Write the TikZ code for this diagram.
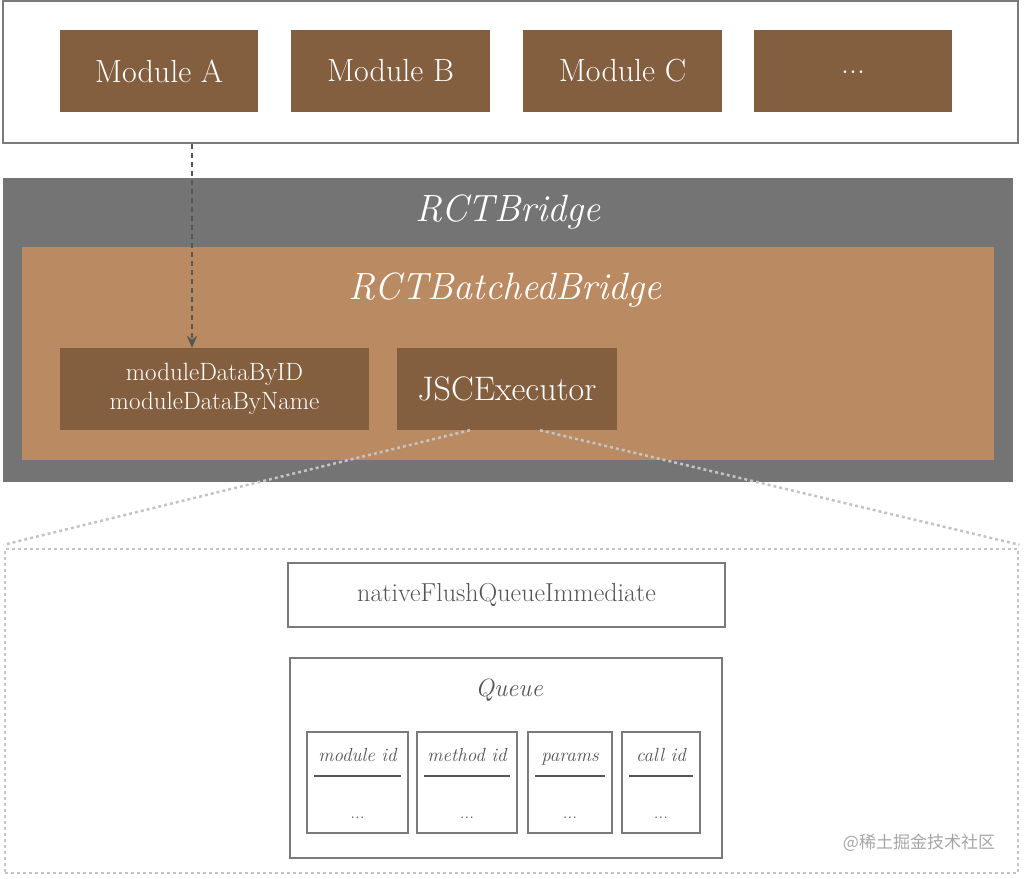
\documentclass[tikz,border=0pt]{standalone}
\usepackage{fontspec}
\newfontfamily\cjk{Noto Sans CJK SC}
\usetikzlibrary{arrows.meta,calc}
\definecolor{brownbox}{HTML}{835F40}
\definecolor{bridgegray}{HTML}{747474}
\definecolor{batched}{HTML}{BA8B62}
\definecolor{framegray}{HTML}{7A7A7A}
\definecolor{dotgray}{HTML}{C4C4C4}
\definecolor{textgray}{HTML}{555555}
\begin{document}
\begin{tikzpicture}[x=1pt,y=-1pt,
  brownnode/.style={rectangle,fill=brownbox,text=white,inner sep=0pt,minimum height=82pt},
  framebox/.style={rectangle,draw=framegray,line width=2.5pt,inner sep=0pt},
  colbox/.style={rectangle,draw=framegray,line width=1.8pt,inner sep=0pt,minimum height=101pt},
  dottedline/.style={draw=dotgray,line width=2.5pt,dash pattern=on 3pt off 3pt},
  coltext/.style={font=\fontsize{19}{21}\selectfont\itshape,text=textgray,inner sep=0pt,anchor=base},
  dottext/.style={font=\fontsize{19}{21}\selectfont,text=textgray,inner sep=0pt,anchor=base}]
\useasboundingbox (0,0) rectangle (1024,878);
\fill[white] (0,0) rectangle (1024,878);

% top module frame
\node[framebox,minimum width=1015pt,minimum height=142pt] (topframe) at (510.5,72) {};
\node[brownnode,minimum width=198pt,font=\fontsize{32}{34}\selectfont] (ma) at (159,71) {Module A};
\node[brownnode,minimum width=199pt,font=\fontsize{32}{34}\selectfont] (mb) at (390.5,71) {Module B};
\node[brownnode,minimum width=199pt,font=\fontsize{32}{34}\selectfont] (mc) at (622.5,71) {Module C};
\node[brownnode,minimum width=198pt,font=\fontsize{32}{34}\selectfont] (md) at (853,71) {\raisebox{-5pt}{...}};

% bridge
\node[rectangle,fill=bridgegray,minimum width=1010pt,minimum height=304pt,inner sep=0pt] (bridge) at (508,330) {};
\node[rectangle,fill=batched,minimum width=972pt,minimum height=213pt,inner sep=0pt] (batched) at (508,353.5) {};
\node[text=white,font=\fontsize{38}{40}\selectfont\itshape,inner sep=0pt] (bridgelbl) at (508,212) {RCTBridge};
\node[text=white,font=\fontsize{38}{40}\selectfont\itshape,inner sep=0pt] (batchedlbl) at (505,290) {RCTBatchedBridge};
\node[brownnode,minimum width=309pt,align=center,font=\fontsize{25}{29}\selectfont] (mdata) at (214.5,389) {moduleDataByID\\moduleDataByName};
\node[brownnode,minimum width=220pt,font=\fontsize{34}{36}\selectfont] (jsc) at (507,389) {JSCExecutor};

% dashed arrow
\coordinate (arrowtop) at (192,144);
\draw[draw=textgray,line width=1.8pt,dash pattern=on 5pt off 4pt,-{Stealth[length=12pt,width=10pt]}] (arrowtop) -- (arrowtop |- mdata.north);

% dotted zoom region
\node[rectangle,dottedline,minimum width=1013pt,minimum height=324pt,inner sep=0pt] (zoom) at (511.5,711) {};
\draw[dottedline] ([xshift=-37pt]jsc.south) -- ([yshift=3pt]zoom.north west);
\draw[dottedline] ([xshift=33pt]jsc.south) -- ([yshift=3pt]zoom.north east);

\node[framebox,minimum width=437pt,minimum height=64pt,text=textgray,font=\fontsize{26}{28}\selectfont] (nfq) at (506.5,595) {nativeFlushQueueImmediate};
\node[framebox,minimum width=432pt,minimum height=200pt] (queue) at (506,758) {};
\node[text=textgray,font=\fontsize{25}{27}\selectfont\itshape,inner sep=0pt] (queuelbl) at (509,690) {Queue};

\node[colbox,minimum width=101pt] (c1) at (357.5,782.5) {};
\node[colbox,minimum width=100pt] (c2) at (467,782.5) {};
\node[colbox,minimum width=84pt] (c3) at (570,782.5) {};
\node[colbox,minimum width=78pt] (c4) at (661,782.5) {};

\foreach \c/\t in {c1/module id,c2/method id,c3/params,c4/call id}{
  \node[coltext] (\c h) at ([yshift=21.5pt]\c.center) {\t};
  \node[dottext] (\c d) at ([yshift=-36pt]\c.center) {...};
  \draw[draw=textgray,line width=1.6pt] ([xshift=8pt,yshift=6.5pt]\c.west) -- ([xshift=-8pt,yshift=6.5pt]\c.east);
}

\node[text=black!35,font=\cjk\fontsize{17}{19}\selectfont,inner sep=0pt] (wm) at (919,843) {@稀土掘金技术社区};
\end{tikzpicture}
\end{document}
